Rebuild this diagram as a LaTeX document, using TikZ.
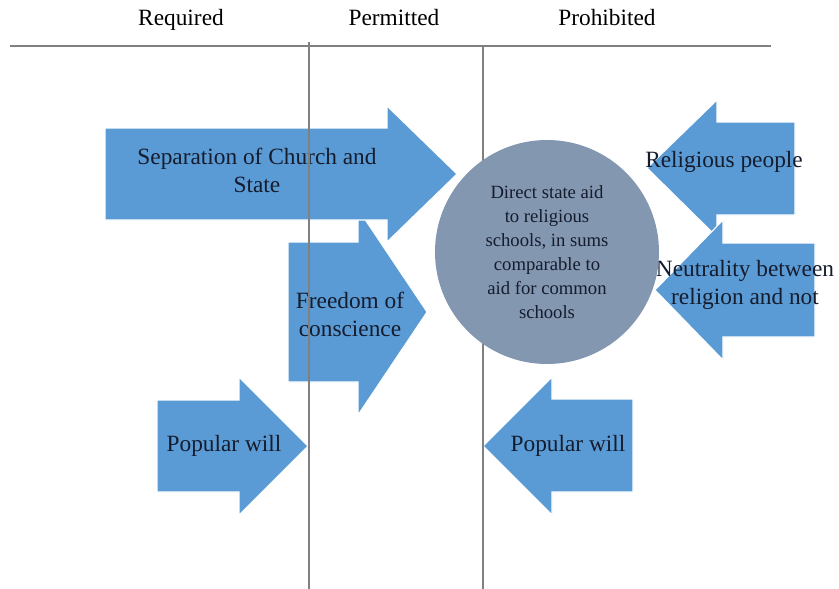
\documentclass[tikz,border=0pt]{standalone}
\usepackage{fontspec}
\setmainfont{Liberation Serif}
\usetikzlibrary{positioning}
\definecolor{arrowBlue}{RGB}{91,155,213}
\definecolor{circleGray}{RGB}{132,151,176}
\definecolor{inkNavy}{RGB}{20,28,45}
\definecolor{ruleGray}{RGB}{128,128,128}

\begin{document}
\begin{tikzpicture}[x=0.75pt, y=-0.75pt,
  blockarrow/.style={fill=arrowBlue, draw=white, line width=0.8pt},
  lbl/.style={text=inkNavy, align=center, inner sep=0pt, font=\fontsize{17.5}{21}\selectfont},
  colhead/.style={inner sep=0pt, anchor=base, font=\fontsize{17.5}{19}\selectfont},
  rule/.style={draw=ruleGray, line width=1pt}
]
  \useasboundingbox (0,0) rectangle (839,589);

  % column headers
  \node[colhead] (req) at (181,25) {Required};
  \node[colhead] (perm) at (394,25) {Permitted};
  \node[colhead] (proh) at (607,25) {Prohibited};

  % block arrows
  \path[blockarrow] (288,242) -- (358,242) -- (358,209) -- (427,312) -- (358,415) -- (358,382) -- (288,382) -- cycle;
  \path[blockarrow] (105,128) -- (387,128) -- (387,106) -- (457,174) -- (387,242) -- (387,220) -- (105,220) -- cycle;
  \path[blockarrow] (795,122) -- (717,122) -- (717,100) -- (647,168) -- (717,237) -- (717,215) -- (795,215) -- cycle;
  \path[blockarrow] (815,243) -- (723,243) -- (723,220) -- (655,290) -- (723,360) -- (723,337) -- (815,337) -- cycle;
  \path[blockarrow] (157,400) -- (239,400) -- (239,377) -- (308,446) -- (239,515) -- (239,492) -- (157,492) -- cycle;
  \path[blockarrow] (633,399) -- (552,399) -- (552,377) -- (483,446) -- (552,515) -- (552,492) -- (633,492) -- cycle;

  % arrow labels
  \node[lbl] (sep) at (257,170) {Separation of Church and\\State};
  \node[lbl] (freedom) at (350,314) {Freedom of\\conscience};
  \node[lbl] (relig) at (724,162) {Religious people};
  \node[lbl] (neutral) at (745,285) {Neutrality between\\religion and not};
  \node[lbl] (popL) at (224,446) {Popular will};
  \node[lbl] (popR) at (568,446) {Popular will};

  % table rules
  \draw[rule] (10,46) -- (771,46);
  \draw[rule] (309,42) -- (309,589);
  \draw[rule] (483,46) -- (483,589);

  % the policy in question
  \node[circle, fill=circleGray, minimum size=168pt, inner sep=0pt, text=inkNavy, align=center,
        font=\fontsize{14}{18}\selectfont] (aid) at (547,252)
        {Direct state aid\\to religious\\schools, in sums\\comparable to\\aid for common\\schools};
\end{tikzpicture}
\end{document}
